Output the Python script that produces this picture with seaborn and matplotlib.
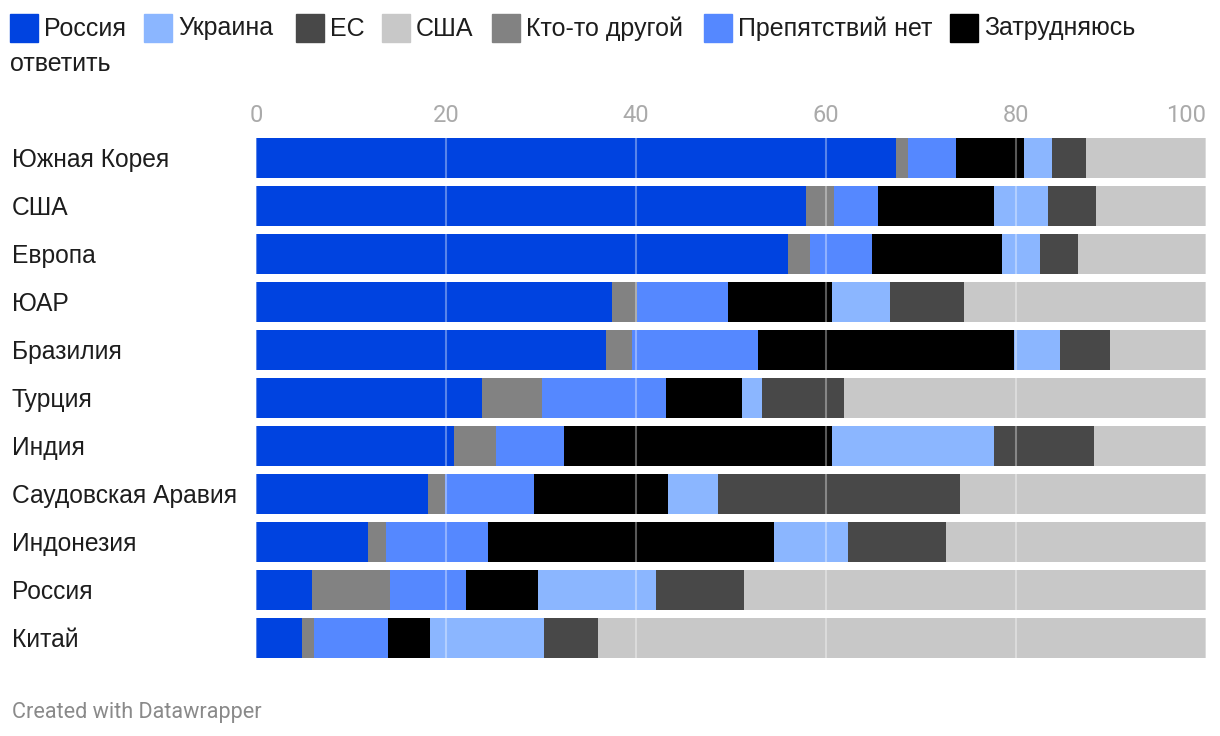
import matplotlib
matplotlib.use("Agg")
import matplotlib.pyplot as plt
import matplotlib.patches as mpatches
import matplotlib.transforms as mtransforms
import seaborn as sns
import numpy as np
import pandas as pd

# ---------------- data ----------------
countries = ["Южная Корея", "США", "Европа", "ЮАР", "Бразилия", "Турция",
             "Индия", "Саудовская Аравия", "Индонезия", "Россия", "Китай"]

# stacking order (left to right)
russia   = [67.4, 57.9, 56.0, 37.5, 36.8, 23.8, 20.8, 18.1, 11.8, 5.9, 4.8]
other    = [1.2, 2.9, 2.3, 2.6, 2.8, 6.3, 4.5, 1.8, 1.9, 8.2, 1.3]
no_obst  = [5.1, 4.7, 6.5, 9.6, 13.2, 13.1, 7.1, 9.4, 10.7, 8.0, 7.8]
hard     = [7.1, 12.2, 13.7, 10.9, 27.0, 8.0, 28.2, 14.1, 30.1, 7.6, 4.4]
ukraine  = [3.0, 5.7, 4.0, 6.1, 4.8, 2.1, 17.1, 5.2, 7.8, 12.4, 12.0]
eu       = [3.6, 5.0, 4.0, 7.8, 5.3, 8.6, 10.5, 25.5, 10.3, 9.3, 5.7]
usa      = [12.6, 11.6, 13.5, 25.5, 10.1, 38.1, 11.8, 25.9, 27.4, 48.6, 64.0]

series_names = ["Россия", "Кто-то другой", "Препятствий нет", "Затрудняюсь ответить",
                "Украина", "ЕС", "США"]
series_vals = [russia, other, no_obst, hard, ukraine, eu, usa]
series_colors = ["#0043e0", "#828282", "#5588ff", "#000000", "#8bb6ff", "#484848", "#c8c8c8"]

legend_names = ["Россия", "Украина", "ЕС", "США", "Кто-то другой", "Препятствий нет", "Затрудняюсь"]
legend_colors = ["#0043e0", "#8bb6ff", "#484848", "#c8c8c8", "#828282", "#5588ff", "#000000"]

xticks = [0, 20, 40, 60, 80, 100]

# ---------------- figure ----------------
sns.set_theme(style="white")
plt.rcParams["font.family"] = ["Liberation Sans", "DejaVu Sans"]

W, H = 1220, 736
fig = plt.figure(figsize=(W / 100, H / 100), dpi=100)
ax = fig.add_axes([256 / W, 1 - 662 / H, (1206 - 256) / W, (662 - 134) / H])

df = pd.DataFrame({"country": countries})
cum = np.zeros(len(countries))
cums = []
for vals in series_vals:
    cum = cum + np.array(vals)
    cums.append(cum.copy())

# draw cumulative totals from largest to smallest so each stacked segment shows
for name, c, color in reversed(list(zip(series_names, cums, series_colors))):
    d = df.copy()
    d["value"] = c
    sns.barplot(data=d, x="value", y="country", orient="h", color=color,
                saturation=1, width=40 / 48, linewidth=0, ax=ax, errorbar=None)

ax.set_xlim(0, 100)
ax.set_ylim(len(countries) - 0.5, -0.5)
ax.set_xlabel("")
ax.set_ylabel("")
for s in ax.spines.values():
    s.set_visible(False)

# grid on top
ax.set_xticks(xticks)
for xv in xticks:
    ax.axvline(xv, color="white", alpha=0.35, lw=1.5, zorder=10)

ax.xaxis.tick_top()
ax.tick_params(axis="x", length=0, pad=5, labelsize=17, labelcolor="#aaaaaa")
ax.set_xticklabels([str(t) for t in xticks])
for lab in ax.get_xticklabels():
    lab.set_fontfamily(["Roboto", "DejaVu Sans"])
ax.get_xticklabels()[-1].set_horizontalalignment("right")

ax.tick_params(axis="y", length=0, pad=(256 - 12) * 0.72, labelsize=17.7, labelcolor="#1d1d1d")
shift = mtransforms.ScaledTranslation(0, -2 / 100, fig.dpi_scale_trans)
for lab in ax.get_yticklabels():
    lab.set_horizontalalignment("left")
    lab.set_verticalalignment("center")
    lab.set_transform(lab.get_transform() + shift)

# legend (manual, wrapped like the original)
sq_x = [10, 144, 296, 382, 492, 704, 950]
for x, name, color in zip(sq_x, legend_names, legend_colors):
    fig.patches.append(mpatches.Rectangle((x / W, 1 - 42 / H), 28 / W, 28 / H,
                                          transform=fig.transFigure, color=color))
    fig.text((x + 34) / W, 1 - 26 / H, name, fontsize=18, color="#1d1d1d",
             va="center_baseline", ha="left")
fig.text(10 / W, 1 - 61.5 / H, "ответить", fontsize=18, color="#1d1d1d",
         va="center_baseline", ha="left")

fig.text(12 / W, 1 - 710 / H, "Created with Datawrapper", fontsize=15.6,
         color="#8a8a8a", va="center_baseline", ha="left",
         family=["Roboto", "DejaVu Sans"])

fig.savefig("out.png", dpi=100)
